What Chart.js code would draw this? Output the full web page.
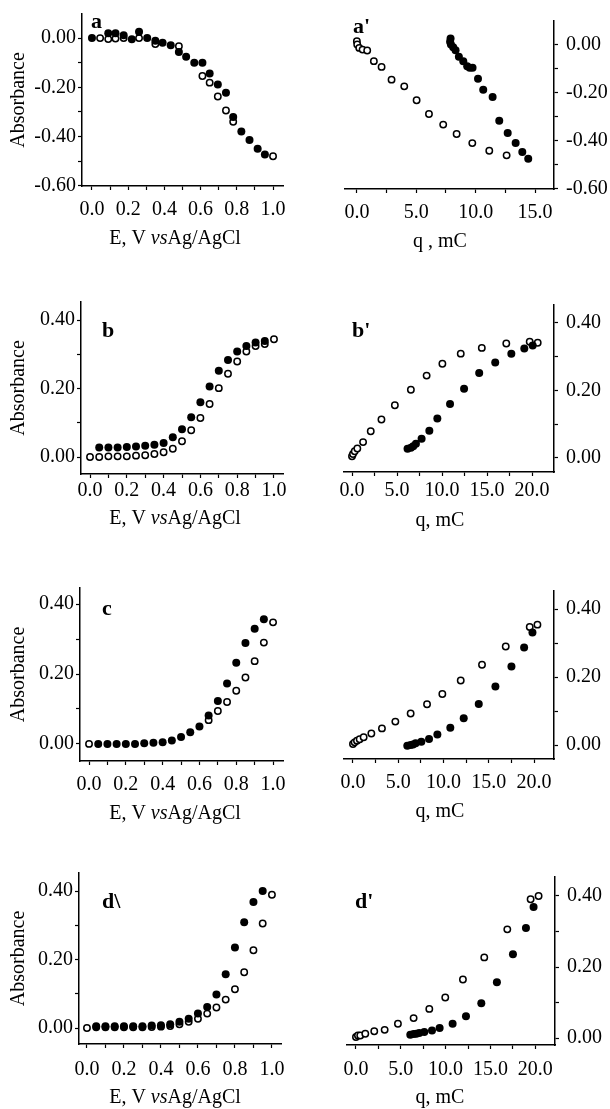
<!DOCTYPE html>
<html>
<head>
<meta charset="utf-8">
<script src="https://cdn.jsdelivr.net/npm/chart.js@4.4.1/dist/chart.umd.min.js"></script>
<style>
  html, body { margin: 0; padding: 0; background: #fff; }
  #page { position: relative; width: 610px; height: 1109px; overflow: hidden; background: #fff; }
  #page canvas { position: absolute; }
</style>
</head>
<body>
<div id="page"></div>
<script>
// Panel a: potentials (V vs Ag/AgCl) and absorbance, filled / open markers
const ePanelA = [0, 0.045, 0.09, 0.13, 0.175, 0.22, 0.26, 0.305, 0.35, 0.39, 0.435, 0.48, 0.52, 0.565, 0.61, 0.65, 0.695, 0.74, 0.78, 0.825, 0.87, 0.915, 0.955, 1.0];
const absAFilled = [0.000, null, 0.020, 0.020, 0.012, -0.005, 0.026, 0.000, -0.011, -0.019, -0.029, -0.056, -0.076, -0.100, -0.100, -0.144, -0.189, -0.222, -0.321, -0.380, -0.414, -0.450, -0.473, null];
const absAOpen = [null, 0.000, -0.004, -0.002, 0.000, null, 0.000, null, -0.024, null, null, -0.033, null, null, -0.154, -0.181, -0.237, -0.294, -0.340, null, null, null, null, -0.480];

// Panels b, c, d share the same potential steps
const ePotential = [0, 0.05, 0.10, 0.15, 0.20, 0.25, 0.30, 0.35, 0.40, 0.45, 0.50, 0.55, 0.60, 0.65, 0.70, 0.75, 0.80, 0.85, 0.90, 0.95, 1.0];
const absBFilled = [null, 0.028, 0.028, 0.028, 0.029, 0.031, 0.033, 0.036, 0.041, 0.058, 0.081, 0.116, 0.160, 0.206, 0.252, 0.283, 0.308, 0.324, 0.334, 0.339, null];
const absBOpen = [0.000, 0.000, 0.002, 0.002, 0.002, 0.004, 0.005, 0.009, 0.014, 0.024, 0.046, 0.078, 0.114, 0.155, 0.201, 0.243, 0.279, 0.308, 0.324, 0.330, 0.344];
const absCFilled = [null, 0.000, 0.000, 0.000, 0.000, 0.000, 0.002, 0.003, 0.005, 0.010, 0.020, 0.033, 0.050, 0.081, 0.123, 0.173, 0.232, 0.289, 0.330, 0.357, null];
const absCOpen = [0.000, null, null, null, null, null, null, null, null, null, null, null, null, 0.068, 0.094, 0.120, 0.152, 0.190, 0.237, 0.290, 0.348];
const absDFilled = [null, 0.005, 0.005, 0.005, 0.005, 0.005, 0.005, 0.007, 0.008, 0.011, 0.018, 0.027, 0.042, 0.061, 0.098, 0.157, 0.235, 0.309, 0.368, 0.400, null];
const absDOpen = [0.000, 0.002, 0.002, 0.002, 0.002, 0.002, 0.002, 0.003, 0.004, 0.006, 0.011, 0.018, 0.027, 0.042, 0.060, 0.083, 0.113, 0.163, 0.227, 0.305, 0.389];

// Primed panels: charge q (mC) against absorbance
const qApFilled = [7.85, 7.89, 7.92, 8.11, 8.31, 8.59, 8.96, 9.29, 9.50, 9.74, 10.20, 10.64, 11.43, 11.99, 12.70, 13.37, 13.93, 14.43];
const absApFilled = [0.012, 0.025, 0.000, -0.011, -0.024, -0.051, -0.069, -0.090, -0.096, -0.097, -0.142, -0.188, -0.218, -0.317, -0.368, -0.410, -0.447, -0.475];
const qApOpen = [0.00, 0.03, 0.20, 0.48, 0.87, 1.43, 2.08, 2.92, 3.99, 5.03, 6.07, 7.27, 8.40, 9.72, 11.15, 12.61];
const absApOpen = [0.014, 0.000, -0.014, -0.021, -0.025, -0.069, -0.093, -0.146, -0.174, -0.232, -0.289, -0.333, -0.372, -0.410, -0.442, -0.461];

const qBpFilled = [6.17, 6.54, 6.80, 7.10, 7.73, 8.59, 9.48, 10.89, 12.45, 14.13, 15.91, 17.70, 19.14, 20.07];
const absBpFilled = [0.027, 0.030, 0.035, 0.042, 0.057, 0.081, 0.117, 0.160, 0.205, 0.252, 0.283, 0.309, 0.324, 0.333];
const qBpOpen = [0.00, 0.11, 0.30, 0.59, 1.23, 2.08, 3.27, 4.76, 6.54, 8.29, 10.04, 12.08, 14.42, 17.14, 19.74, 20.63];
const absBpOpen = [0.005, 0.012, 0.020, 0.028, 0.047, 0.079, 0.114, 0.156, 0.202, 0.244, 0.279, 0.309, 0.326, 0.339, 0.344, 0.341];

const qCpFilled = [6.00, 6.37, 6.63, 6.92, 7.55, 8.40, 9.32, 10.75, 12.23, 13.89, 15.73, 17.50, 18.90, 19.82];
const absCpFilled = [-0.002, 0.000, 0.002, 0.005, 0.010, 0.018, 0.031, 0.051, 0.079, 0.121, 0.172, 0.231, 0.287, 0.331];
const qCpOpen = [0.00, 0.18, 0.44, 0.74, 1.18, 2.03, 3.20, 4.68, 6.37, 8.18, 9.87, 11.90, 14.25, 16.87, 19.52, 20.37];
const absCpOpen = [0.003, 0.008, 0.013, 0.017, 0.023, 0.034, 0.049, 0.069, 0.093, 0.120, 0.150, 0.190, 0.236, 0.290, 0.347, 0.354];

const qDpFilled = [6.06, 6.43, 6.73, 7.06, 7.62, 8.48, 9.33, 10.78, 12.27, 13.98, 15.72, 17.51, 18.96, 19.81];
const absDpFilled = [0.009, 0.011, 0.012, 0.014, 0.017, 0.021, 0.028, 0.040, 0.061, 0.098, 0.157, 0.236, 0.310, 0.369];
const qDpOpen = [0.00, 0.22, 0.48, 1.04, 2.04, 3.20, 4.68, 6.43, 8.18, 9.96, 11.93, 14.31, 16.88, 19.48, 20.37];
const absDpOpen = [0.003, 0.007, 0.007, 0.012, 0.019, 0.023, 0.040, 0.056, 0.082, 0.114, 0.165, 0.227, 0.306, 0.391, 0.400];

// Text
const yAxisTitle = "Absorbance";
const eCaption = [["E, V ", false], ["vs", true], ["Ag/AgCl", false]];
const qCaptionFirst = [["q , mC", false]];
const qCaption = [["q, mC", false]];
const panelTags = ["a", "a'", "b", "b'", "c", "", "d\\", "d'"];

const SERIF = "'Liberation Serif', 'Times New Roman', serif";

const toPoints = (xs, ys) => xs.map((x, i) => ({ x: x, y: ys[i] })).filter(p => p.y !== null);

// draws the panel letter and the x axis caption (with italic "vs")
const figureText = {
    id: "figureText",
    afterDraw(chart, args, opts) {
        const ctx = chart.ctx;
        ctx.save();
        ctx.fillStyle = "#000";
        ctx.textBaseline = "alphabetic";
        ctx.textAlign = "left";
        if (opts.tag) {
            ctx.font = "bold 22px " + SERIF;
            ctx.fillText(opts.tag, opts.tagX - opts.ox, opts.tagY - opts.oy);
        }
        const parts = opts.caption || [];
        let total = 0;
        const widths = parts.map(([t, it]) => {
            ctx.font = (it ? "italic " : "") + "20px " + SERIF;
            const w = ctx.measureText(t).width;
            total += w;
            return w;
        });
        let x = opts.capX - opts.ox - total / 2;
        parts.forEach(([t, it], i) => {
            ctx.font = (it ? "italic " : "") + "20px " + SERIF;
            ctx.fillText(t, x, opts.capY - opts.oy);
            x += widths[i];
        });
        ctx.restore();
    }
};

// layout of the eight panels (page pixels)
const panels = [
    { side: "left", box: [0, 0, 300, 277], area: [82, 283, 14, 186], x: [-0.055, 1.055], y: [-0.601, 0.098], filled: toPoints(ePanelA, absAFilled), open: toPoints(ePanelA, absAOpen), tag: [91, 28], cap: [175, 244], xPad: 8 },
    { side: "right", box: [300, 0, 310, 277], area: [345, 554, 21, 189], x: [-1.0, 16.6], y: [-0.601, 0.098], filled: toPoints(qApFilled, absApFilled), open: toPoints(qApOpen, absApOpen), tag: [353, 33], cap: [440, 247], xPad: 8 },
    { side: "left", box: [0, 277, 300, 277], area: [81, 283, 302, 474], x: [-0.049, 1.049], y: [-0.0496, 0.4526], filled: toPoints(ePotential, absBFilled), open: toPoints(ePotential, absBOpen), tag: [102, 337], cap: [175, 524], xPad: 1 },
    { side: "right", box: [300, 277, 310, 277], area: [344, 554, 305, 472], x: [-0.89, 22.44], y: [-0.0415, 0.453], filled: toPoints(qBpFilled, absBpFilled), open: toPoints(qBpOpen, absBpOpen), tag: [352, 337], cap: [440, 526], xPad: 3 },
    { side: "left", box: [0, 555, 300, 277], area: [80, 283, 588, 761], x: [-0.049, 1.054], y: [-0.049, 0.4464], filled: toPoints(ePotential, absCFilled), open: toPoints(ePotential, absCOpen), tag: [102, 615], cap: [175, 819], xPad: 8 },
    { side: "right", box: [300, 555, 310, 277], area: [344, 554, 591, 759], x: [-0.99, 22.2], y: [-0.041, 0.453], filled: toPoints(qCpFilled, absCpFilled), open: toPoints(qCpOpen, absCpOpen), tag: [353, 615], cap: [440, 817], xPad: 8 },
    { side: "left", box: [0, 832, 300, 277], area: [79, 281, 873, 1044], x: [-0.043, 1.049], y: [-0.0467, 0.4526], filled: toPoints(ePotential, absDFilled), open: toPoints(ePotential, absDOpen), tag: [102, 908], cap: [175, 1103], xPad: 10 },
    { side: "right", box: [300, 832, 310, 277], area: [347, 555, 877, 1045], x: [-1.0, 22.2], y: [-0.0197, 0.4535], filled: toPoints(qDpFilled, absDpFilled), open: toPoints(qDpOpen, absDpOpen), tag: [355, 908], cap: [440, 1103], xPad: 9 }
];

const evenLabel = (v, step, digits) => {
    const k = Math.round(v / step);
    if (k % 2 !== 0) return "";
    const val = Math.abs(v) < 1e-9 ? 0 : v;
    return val.toFixed(digits);
};

document.addEventListener("DOMContentLoaded", () => {
    const page = document.getElementById("page");

    panels.forEach((p, idx) => {
        const [bx, by, bw, bh] = p.box;
        const [al, ar, at, ab] = p.area;
        const isLeft = p.side === "left";
        const canvas = document.createElement("canvas");
        canvas.width = bw;
        canvas.height = bh;
        canvas.style.left = bx + "px";
        canvas.style.top = by + "px";
        page.appendChild(canvas);

        const yWidth = isLeft ? al - bx : bx + bw - ar;
        const xHeight = by + bh - ab;
        const tickFont = { family: SERIF, size: 20 };
        const axisGrid = { drawOnChartArea: false, drawTicks: true, tickLength: 4, tickColor: "#000", tickWidth: 1.2 };
        const axisBorder = { display: true, color: "#000", width: 1.5 };
        const xStep = isLeft ? 0.1 : 2.5;

        new Chart(canvas, {
            type: "scatter",
            data: {
                datasets: [
                    { label: "filled", data: p.filled, pointRadius: 4, pointBackgroundColor: "#000", pointBorderColor: "#000", pointBorderWidth: 0 },
                    { label: "open", data: p.open, pointRadius: 3.2, pointBackgroundColor: "#fff", pointBorderColor: "#000", pointBorderWidth: 1.5 }
                ]
            },
            options: {
                responsive: false,
                animation: false,
                events: [],
                layout: { padding: { top: at - by, bottom: 0, left: isLeft ? 0 : al - bx, right: isLeft ? bx + bw - ar : 0 } },
                plugins: {
                    legend: { display: false },
                    tooltip: { enabled: false },
                    figureText: {
                        ox: bx, oy: by,
                        tag: panelTags[idx], tagX: p.tag[0], tagY: p.tag[1],
                        caption: isLeft ? eCaption : (idx === 1 ? qCaptionFirst : qCaption),
                        capX: p.cap[0], capY: p.cap[1]
                    }
                },
                scales: {
                    x: {
                        type: "linear",
                        position: "bottom",
                        min: p.x[0],
                        max: p.x[1],
                        afterFit: s => { s.height = xHeight; },
                        border: axisBorder,
                        grid: axisGrid,
                        ticks: {
                            stepSize: xStep,
                            includeBounds: false,
                            autoSkip: false,
                            maxRotation: 0,
                            padding: p.xPad,
                            color: "#000",
                            font: tickFont,
                            callback: v => evenLabel(v, xStep, 1)
                        }
                    },
                    y: {
                        type: "linear",
                        position: isLeft ? "left" : "right",
                        min: p.y[0],
                        max: p.y[1],
                        afterFit: s => { s.width = yWidth; },
                        border: axisBorder,
                        grid: axisGrid,
                        title: {
                            display: isLeft,
                            text: yAxisTitle,
                            color: "#000",
                            font: { family: SERIF, size: 20 },
                            padding: { top: 7, bottom: 0 }
                        },
                        ticks: {
                            stepSize: 0.1,
                            includeBounds: false,
                            autoSkip: false,
                            padding: isLeft ? 2 : 8,
                            color: "#000",
                            font: tickFont,
                            callback: v => evenLabel(v, 0.1, 2)
                        }
                    }
                }
            },
            plugins: [figureText]
        });
    });
});
</script>
</body>
</html>
